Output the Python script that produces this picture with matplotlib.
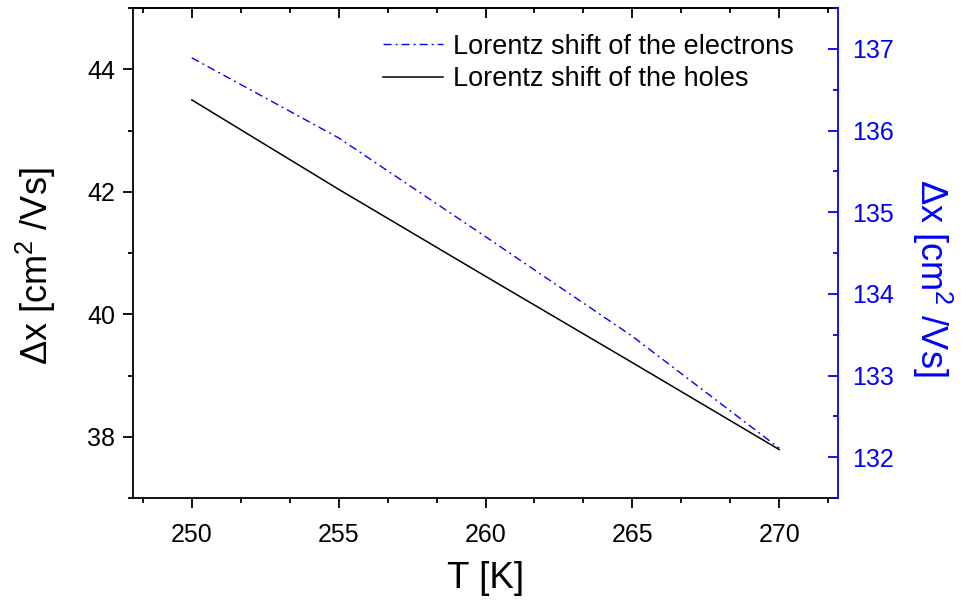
import matplotlib; matplotlib.use("Agg")
import matplotlib.pyplot as plt
from matplotlib.ticker import AutoMinorLocator, MultipleLocator

plt.rcParams.update({"font.family": "Liberation Sans", "mathtext.fontset": "custom",
  "mathtext.rm": "Liberation Sans", "mathtext.it": "Liberation Sans:italic",
  "axes.linewidth": 1.3, "xtick.major.width": 1.3, "ytick.major.width": 1.3,
  "xtick.minor.width": 1.3, "ytick.minor.width": 1.3})

BLUE = "#0000ff"
T = [250, 255, 260, 265, 270]
holes = [43.50, 42.04, 40.62, 39.21, 37.79]        # left axis
electrons = [136.89, 135.91, 134.70, 133.48, 132.11]  # right axis
LBL_E = "Lorentz shift of the electrons"
LBL_H = "Lorentz shift of the holes"
YLAB = "Δx [cm$^{2}$ /Vs]"

fig = plt.figure(figsize=(9.61, 6.01), dpi=100)
ax = fig.add_axes([133/961, 1-498/601, (838-133)/961, (498-8)/601])
ax2 = ax.twinx()

lh, = ax.plot(T, holes, color="black", lw=1.1, label=LBL_H)
le, = ax2.plot(T, electrons, color=BLUE, lw=1.0, ls=(0, (5.8, 2.9, 1.4, 2.9)), label=LBL_E)

ax.set_xlim(248, 272); ax.set_ylim(37, 45)
ax2.set_ylim(131.5, 137.5)
ax.set_xticks(T); ax.xaxis.set_minor_locator(AutoMinorLocator(3))
ax.yaxis.set_major_locator(MultipleLocator(2)); ax.yaxis.set_minor_locator(AutoMinorLocator(2))
ax2.yaxis.set_major_locator(MultipleLocator(1)); ax2.yaxis.set_minor_locator(AutoMinorLocator(2))

ax.tick_params(axis="both", which="major", direction="out", length=7, labelsize=18, pad=6)
ax.tick_params(axis="both", which="minor", direction="out", length=3.6)
ax.tick_params(axis="x", pad=11)
ax2.tick_params(axis="y", which="major", direction="in", length=7, labelsize=18, colors=BLUE, pad=10)
ax2.tick_params(axis="y", which="minor", direction="in", length=3.6, colors=BLUE)

# top axis: mirrored inward ticks, no labels
top = ax.secondary_xaxis("top")
top.set_xticks(T); top.xaxis.set_minor_locator(AutoMinorLocator(3))
top.tick_params(which="major", direction="in", length=7, labeltop=False)
top.tick_params(which="minor", direction="in", length=3.6)

ax.spines["right"].set_visible(False)
for s in ["top", "left", "bottom"]:
    ax2.spines[s].set_visible(False)
ax2.spines["right"].set_color(BLUE)

ax.set_xlabel("T [K]", fontsize=26.5, labelpad=10)
ax.set_ylabel(YLAB, fontsize=26)
ax.yaxis.set_label_coords(-0.107, 0.473)
ax2.set_ylabel(YLAB, fontsize=26, color=BLUE, rotation=270)
ax2.yaxis.set_label_coords(1.165, 0.45)

leg = ax.legend([le, lh], [LBL_E, LBL_H], loc="upper left", frameon=False, fontsize=19.5,
                handlelength=2.2, handletextpad=0.37, labelspacing=0.23,
                borderaxespad=0, borderpad=0, bbox_to_anchor=(0.3546, 0.947))

fig.savefig("out.png", dpi=100)
